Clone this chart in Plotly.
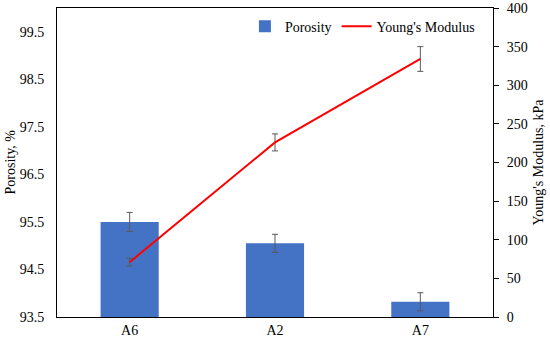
import plotly.graph_objects as go

categories = ["A6", "A2", "A7"]
porosity = [95.5, 95.05, 93.82]
porosity_err = [0.2, 0.19, 0.19]
modulus = [71, 226, 334]
modulus_err = [5, 11, 16]
left_ticks = [93.5, 94.5, 95.5, 96.5, 97.5, 98.5, 99.5]
right_ticks = [0, 50, 100, 150, 200, 250, 300, 350, 400]

font = dict(family="Liberation Serif, serif", size=14, color="black")

fig = go.Figure()
fig.add_trace(go.Bar(
    x=categories, y=porosity, name="Porosity",
    marker=dict(color="#4472C4", line=dict(width=0)),
    width=0.4,
    error_y=dict(type="data", array=porosity_err, color="#595959", thickness=1, width=3),
    yaxis="y",
))
fig.add_trace(go.Scatter(
    x=categories, y=modulus, name="Young's Modulus", mode="lines",
    line=dict(color="#FF0000", width=2),
    error_y=dict(type="data", array=modulus_err, color="#595959", thickness=1, width=3),
    yaxis="y2",
))

fig.update_layout(
    width=550, height=345,
    margin=dict(l=57, r=57, t=8, b=28, autoexpand=False),
    paper_bgcolor="white", plot_bgcolor="white",
    font=font,
    showlegend=True,
    legend=dict(orientation="h", x=0.97, xanchor="right", y=0.94, yanchor="middle",
                bgcolor="rgba(0,0,0,0)", font=font, itemwidth=30),
    xaxis=dict(showline=True, linecolor="black", linewidth=1, mirror=True,
               ticks="", showgrid=False, tickfont=font, automargin=False),
    yaxis=dict(range=[93.5, 100.0], tickvals=left_ticks,
               ticktext=[f"{v:.1f}" for v in left_ticks],
               showline=True, linecolor="black", linewidth=1, ticks="",
               ticklabelstandoff=9, automargin=False,
               showgrid=False, zeroline=False, tickfont=font),
    yaxis2=dict(range=[0, 400], tickvals=right_ticks, overlaying="y", side="right",
                showline=True, linecolor="black", linewidth=1, ticks="outside",
                ticklen=5, tickcolor="black", showgrid=False, zeroline=False,
                ticklabelstandoff=5, tickfont=font, automargin=False),
    bargap=0.6,
    annotations=[
        dict(text="Porosity, %", xref="paper", yref="paper", x=(10 - 57) / 436, y=0.5,
             xanchor="center", yanchor="middle", textangle=-90, showarrow=False, font=font),
        dict(text="Young's Modulus, kPa", xref="paper", yref="paper", x=(538 - 57) / 436, y=0.5,
             xanchor="center", yanchor="middle", textangle=-90, showarrow=False, font=font),
    ],
)

fig.write_html("out.html", config={"displayModeBar": False},
               post_script="document.body.style.margin='0';")
